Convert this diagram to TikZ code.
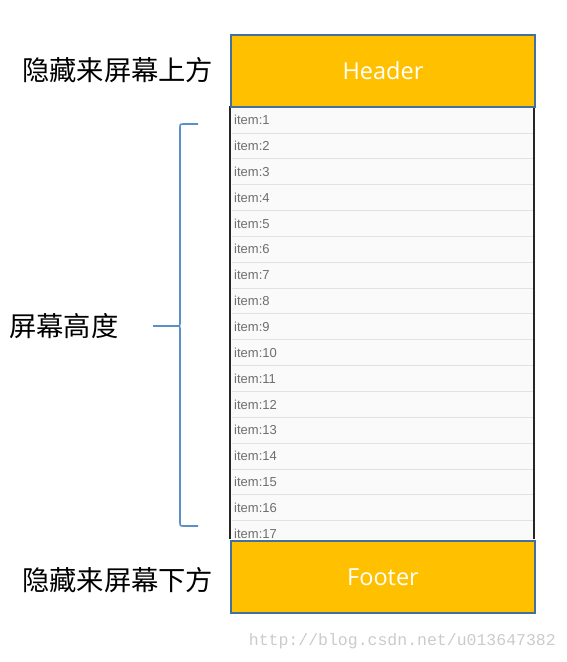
\documentclass[tikz,border=0pt]{standalone}
\usepackage{fontspec}
\setmainfont{Noto Sans}
\newfontfamily\cjk{Noto Sans CJK SC}
\newfontfamily\uifont{Open Sans}
\newfontfamily\itemfont{Liberation Sans}
\newfontfamily\wmfont{Liberation Mono}
\definecolor{boxfill}{HTML}{FFC000}
\definecolor{boxline}{HTML}{41719C}
\definecolor{bracecol}{HTML}{5B8FC7}
\definecolor{rowbg}{HTML}{FAFAFA}
\definecolor{rowline}{HTML}{E2E2E2}
\definecolor{itemtext}{HTML}{6E6E6E}
\definecolor{wmcol}{HTML}{CBCBCB}
\tikzset{
  bar/.style={draw=boxline, line width=2pt, fill=boxfill, minimum width=304pt, minimum height=71.5pt, inner sep=0pt, anchor=north west},
  bartext/.style={text=white, font=\uifont\fontsize{23.5}{26}\selectfont},
  side/.style={font=\cjk\fontsize{27.3}{30}\selectfont, text=black, inner sep=0pt},
  itemlbl/.style={font=\itemfont\fontsize{13}{15}\selectfont, text=itemtext, anchor=west, inner sep=0pt},
  bracepath/.style={draw=bracecol, line width=1.6pt, line join=round}
}
\begin{document}
\begin{tikzpicture}[x=1pt,y=-1pt]
\useasboundingbox (0,0) rectangle (567,662);
% list area
\fill[rowbg] (230,106) rectangle (534,539);
\foreach \k in {1,...,16} {
  \draw[rowline, line width=1pt] (232,{120+(\k-1)*25.85+13}) -- (533,{120+(\k-1)*25.85+13});
}
\foreach \k in {1,...,17} {
  \node[itemlbl] (it\k) at (234,{120+(\k-1)*25.85}) {item:\k};
}
\draw[black!85, line width=1.2pt] (230,106) -- (230,539);
\draw[black!85, line width=1.2pt] (534,106) -- (534,539);
% header and footer
\node[bar] (header) at (230,34) {};
\node[bartext] at (header.center) {Header};
\node[bar] (footer) at (230,540) {};
\node[bartext] at (footer.center) {Footer};
% side labels
\node[side, anchor=west] (top) at (22,70) {隐藏来屏幕上方};
\node[side, anchor=west] (mid) at (9,326) {屏幕高度};
\node[side, anchor=west] (bot) at (22,580) {隐藏来屏幕下方};
% brace
\coordinate (bt) at (198,124);
\coordinate (bb) at (198,526);
\coordinate (tip) at (153,326);
\draw[bracepath] (bt) -- (183,124) .. controls (180,124) .. (180,127) -- (180,322) .. controls (180,326) .. (176,326) -- (tip);
\draw[bracepath] (176,326) .. controls (180,326) .. (180,330) -- (180,523) .. controls (180,526) .. (183,526) -- (bb);
% watermark
\node[font=\wmfont\fontsize{16.5}{18}\selectfont, text=wmcol, anchor=east, inner sep=0pt] (wm) at (556,641) {http://blog.csdn.net/u013647382};
\end{tikzpicture}
\end{document}
